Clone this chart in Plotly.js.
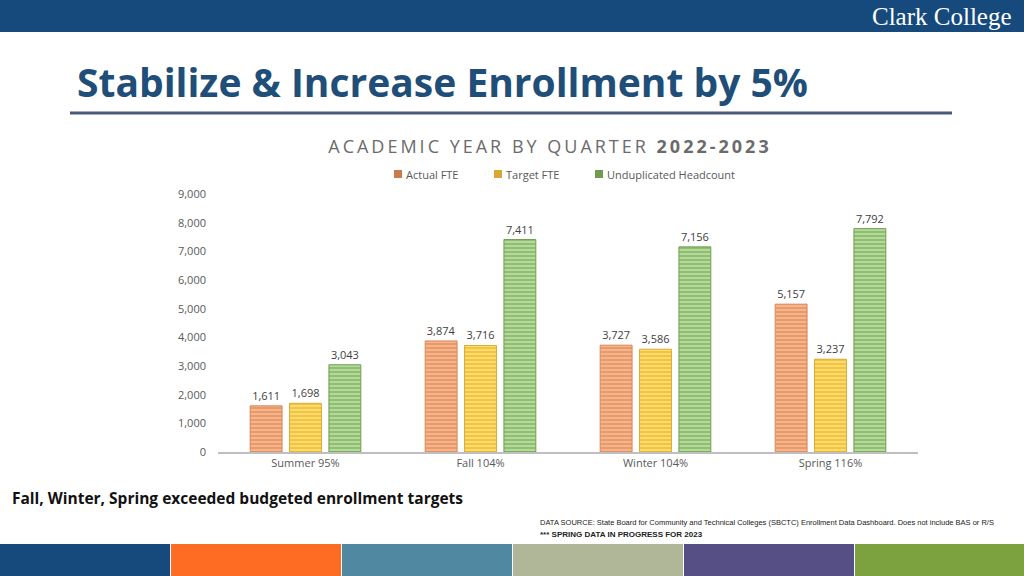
<!DOCTYPE html>
<html><head><meta charset="utf-8">
<script src="https://cdn.plot.ly/plotly-3.0.1.min.js"></script>
<style>
html,body{margin:0;padding:0;background:#fff;}
#chart{width:1024px;height:576px;}
.gtitle{letter-spacing:3px;}
</style></head>
<body><div id="chart"></div>
<script>
const categories = ["Summer 95%", "Fall 104%", "Winter 104%", "Spring 116%"];
const actualFTE = [1611, 3874, 3727, 5157];
const targetFTE = [1698, 3716, 3586, 3237];
const headcount = [3043, 7411, 7156, 7792];
const seriesNames = ["Actual FTE", "Target FTE", "Unduplicated Headcount"];

const L = 218, R = 918, T = 194, B = 452;
const px = x => (x - L) / (R - L);
const py = y => (B - y) / (B - T);

function bar(name, vals, fill, stripe, line) {
  return {
    type: "bar", name: name, x: categories, y: vals,
    text: vals.map(v => v.toLocaleString("en-US")),
    textposition: "outside", cliponaxis: false,
    textfont: {family: "Open Sans, sans-serif", size: 11, color: "#404040"},
    marker: {color: fill, line: {color: line, width: 1},
      pattern: {shape: "-", fgcolor: stripe, bgcolor: fill, size: 4, solidity: 0.3}},
    hoverinfo: "none", showlegend: false
  };
}

const fills = ["#f6b48a", "#ffdc6a", "#b5d99c"];
const stripes = ["#dd8a58", "#e6b531", "#78ad55"];
const lines = ["#d8875a", "#d9ab30", "#6f9f4f"];
const legendSwatch = ["#c97a4e", "#d9a832", "#6e9a52"];
const data = [
  bar(seriesNames[0], actualFTE, fills[0], stripes[0], lines[0]),
  bar(seriesNames[1], targetFTE, fills[1], stripes[1], lines[1]),
  bar(seriesNames[2], headcount, fills[2], stripes[2], lines[2])
];

const stripeColors = ["#174a7c", "#fd6c22", "#4f88a0", "#b0b799", "#564f86", "#7ba23f"];
const shapes = [
  {type: "rect", xref: "paper", yref: "paper", x0: px(0), x1: px(1024), y0: py(0), y1: py(32),
   fillcolor: "#174a7c", line: {width: 0}, layer: "below"},
  {type: "line", xref: "paper", yref: "paper", x0: px(70), x1: px(952), y0: py(113), y1: py(113),
   line: {color: "#4a5a78", width: 3}}
];
stripeColors.forEach((c, i) => {
  shapes.push({type: "rect", xref: "paper", yref: "paper",
    x0: px(i * 171), x1: px(i * 171 + 170), y0: py(544), y1: py(576),
    fillcolor: c, line: {width: 0}});
});

const annotations = [
  {text: "Clark College", xref: "paper", yref: "paper", x: px(1014), y: py(16), xanchor: "right", yanchor: "middle",
   showarrow: false, font: {family: "Liberation Serif, serif", size: 25, color: "#ffffff"}},
  {text: "<b>Stabilize & Increase Enrollment by 5%</b>", xref: "paper", yref: "paper", x: px(75), y: py(82),
   xanchor: "left", yanchor: "middle", showarrow: false,
   font: {family: "Open Sans, sans-serif", size: 39, color: "#1f4e79"}},
  {text: "<b>Fall, Winter, Spring exceeded budgeted enrollment targets</b>", xref: "paper", yref: "paper",
   x: px(10), y: py(498), xanchor: "left", yanchor: "middle", showarrow: false,
   font: {family: "Open Sans, sans-serif", size: 15.5, color: "#111111"}},
  {text: "DATA SOURCE: State Board for Community and Technical Colleges (SBCTC) Enrollment Data Dashboard. Does not include BAS or R/S",
   xref: "paper", yref: "paper", x: px(538), y: py(522), xanchor: "left", yanchor: "middle", showarrow: false,
   font: {family: "Liberation Sans Narrow, Liberation Sans, sans-serif", size: 7.5, color: "#222222"}},
  {text: "<b>*** SPRING DATA IN PROGRESS FOR 2023</b>",
   xref: "paper", yref: "paper", x: px(538), y: py(534), xanchor: "left", yanchor: "middle", showarrow: false,
   font: {family: "Liberation Sans Narrow, Liberation Sans, sans-serif", size: 8, color: "#222222"}}
];

// custom legend (small square swatches as in the reference)
const legendX = [394, 494, 595];
seriesNames.forEach((n, i) => {
  shapes.push({type: "rect", xref: "paper", yref: "paper",
    x0: px(legendX[i]), x1: px(legendX[i] + 8), y0: py(170), y1: py(178),
    fillcolor: legendSwatch[i], line: {width: 0}});
  annotations.push({text: n, xref: "paper", yref: "paper", x: px(legendX[i] + 10), y: py(174),
    xanchor: "left", yanchor: "middle", showarrow: false,
    font: {family: "Open Sans, sans-serif", size: 11, color: "#595959"}});
});

const layout = {
  width: 1024, height: 576,
  margin: {l: L, r: 1024 - R, t: T, b: 576 - B},
  paper_bgcolor: "#ffffff", plot_bgcolor: "#ffffff",
  title: {text: "ACADEMIC YEAR BY QUARTER <b>2022-2023</b>", x: px(550), xanchor: "center", xref: "paper",
    y: 1 - 147 / 576, yanchor: "middle",
    font: {family: "Open Sans, sans-serif", size: 18, color: "#6b6b6b"}},
  barmode: "group", bargap: 0.325, bargroupgap: 0.19,
  showlegend: false,
  xaxis: {tickfont: {family: "Open Sans, sans-serif", size: 11, color: "#595959"},
    showline: true, linecolor: "#bfbfbf", linewidth: 1.5, ticks: "", fixedrange: true},
  yaxis: {range: [0, 9000], dtick: 1000, tickformat: ",d", showgrid: false, zeroline: false,
    showline: false, ticks: "", ticklen: 0, tickfont: {family: "Open Sans, sans-serif", size: 11, color: "#595959"},
    ticklabelstandoff: 11},
  shapes: shapes, annotations: annotations,
  font: {family: "Open Sans, sans-serif"}
};

Plotly.newPlot("chart", data, layout, {displayModeBar: false, staticPlot: true});
</script></body></html>
